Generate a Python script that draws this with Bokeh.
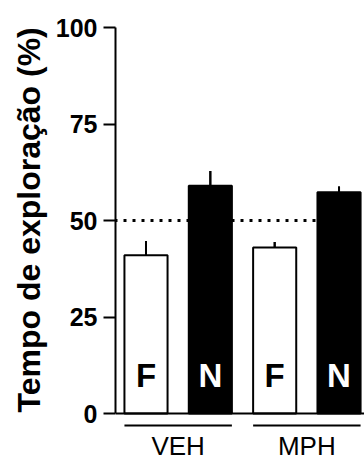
from bokeh.plotting import figure
from bokeh.models import Range1d, FixedTicker, Span, ColumnDataSource, Title
from bokeh.core.properties import value
from bokeh.embed import file_html
from bokeh.resources import INLINE

# ---- data ----
groups = ["VEH", "MPH"]
objects = ["F", "N", "F", "N"]
bar_group = ["VEH", "VEH", "MPH", "MPH"]
means = [41.0, 59.0, 43.0, 57.3]
sems = [3.7, 3.8, 1.4, 1.5]
y_ticks = [0, 25, 50, 75, 100]
chance_level = 50
y_title = "Tempo de exploração (%)"

# ---- layout helpers ----
positions = [1, 2, 3, 4]
bar_w = 0.67
fills = ["white" if o == "F" else "black" for o in objects]
text_colors = ["black" if o == "F" else "white" for o in objects]
FONT = "Liberation Sans"

p = figure(width=364, height=462, output_backend="svg", toolbar_location=None,
           x_range=Range1d(0.526, 4.396), y_range=Range1d(-12.69, 100),
           min_border_left=115, min_border_right=0, min_border_top=27,
           min_border_bottom=0)
p.outline_line_color = None
p.grid.visible = False
p.xaxis.visible = False

# chance line
p.add_layout(Span(location=chance_level, dimension="width", line_color="black",
                  line_width=3, line_dash="3 6", line_dash_offset=1, level="underlay"))

src = ColumnDataSource(dict(x=positions, top=means, fill=fills, tc=text_colors,
                            lab=objects,
                            lo=[m - s for m, s in zip(means, sems)],
                            hi=[m + s for m, s in zip(means, sems)]))
p.segment(x0="x", y0="lo", x1="x", y1="hi", source=src, line_color="black", line_width=2)
p.vbar(x="x", top="top", bottom=0, width=bar_w, source=src, fill_color="fill",
       line_color="black", line_width=2)
p.segment(x0="x", y0="top", x1="x", y1="hi", source=src, line_color="black", line_width=2)

p.text(x="x", y=9.8, text="lab", source=src, text_color="tc",
       text_font=value(FONT), text_font_style="bold",
       text_font_size="33px", text_align="center", text_baseline="middle")

# baseline (x axis line)
p.add_layout(Span(location=0, dimension="width", line_color="black", line_width=2))

# group underlines and labels
gx0, gx1, gc = [], [], []
for g in groups:
    xs = [x for x, b in zip(positions, bar_group) if b == g]
    gx0.append(min(xs) - bar_w / 2)
    gx1.append(max(xs) + bar_w / 2)
    gc.append((min(xs) + max(xs)) / 2)
p.segment(x0=gx0, y0=-3.1, x1=gx1, y1=-3.1, line_color="black", line_width=2)
p.text(x=gc, y=-8.4, text=groups, text_color="black",
       text_font=value(FONT), text_font_size="26px",
       text_align="center", text_baseline="middle")

# y axis
ya = p.yaxis[0]
ya.bounds = (0, 100)
ya.ticker = FixedTicker(ticks=y_ticks)
ya.minor_tick_line_color = None
ya.major_tick_in = 0
ya.major_tick_out = 12
ya.major_tick_line_width = 2
ya.axis_line_width = 2
ya.major_label_standoff = 6
ya.major_label_text_font = FONT
ya.major_label_text_font_style = "bold"
ya.major_label_text_font_size = "25px"
ya.major_label_text_color = "black"

# y title, anchored at the y=0 end of the axis
p.add_layout(Title(text=y_title, align="left", offset=50, standoff=12,
                   text_font=FONT, text_font_style="bold", text_font_size="32px",
                   text_color="black"), "left")

open("out.html", "w").write(file_html(p, INLINE))
